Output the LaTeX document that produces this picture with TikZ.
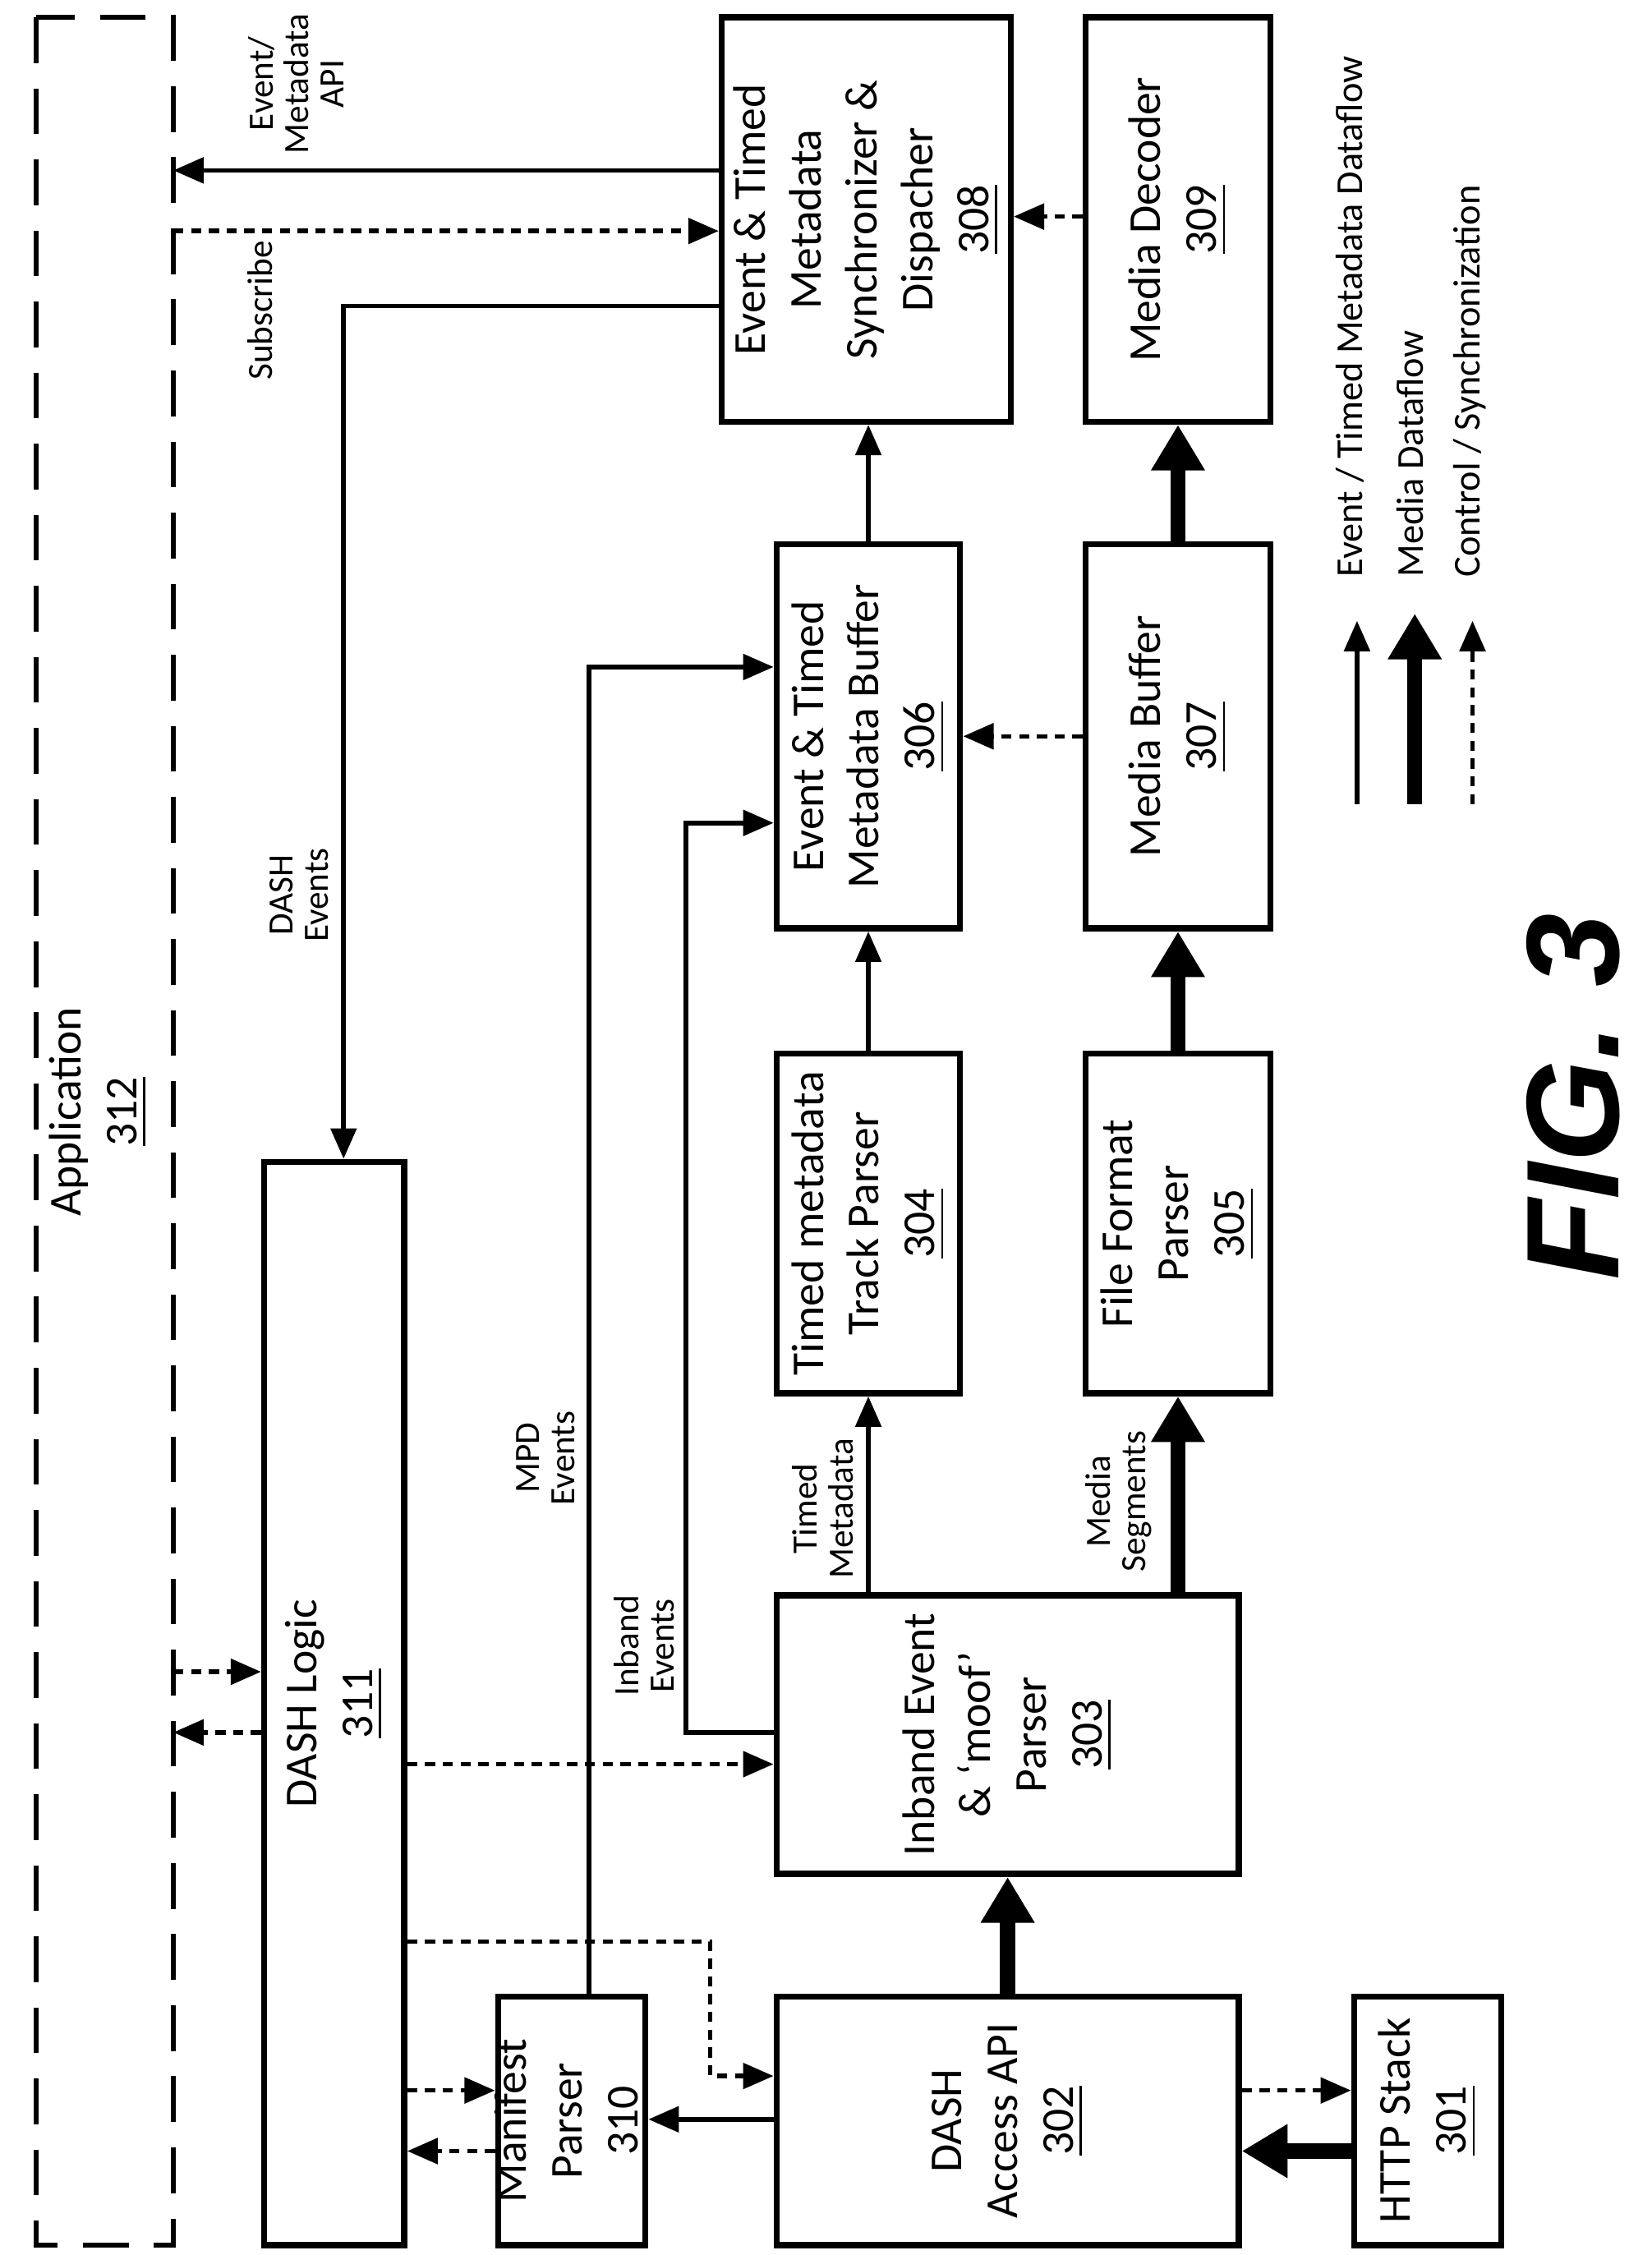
\documentclass[tikz,border=0pt]{standalone}
\usepackage{fontspec}
\setmainfont{Carlito}
\newfontfamily\figfont{Liberation Sans}
\usetikzlibrary{arrows.meta, calc, positioning}

\tikzset{
  box/.style={draw, line width=1.2pt, inner sep=0pt},
  txt/.style={rotate=90, align=center, font=\fontsize{9}{11}\selectfont},
  lbl/.style={rotate=90, align=center, font=\fontsize{7}{7}\selectfont},
  data/.style={line width=0.9pt, -{Triangle[length=6pt,width=5pt]}},
  media/.style={line width=3pt, -{Triangle[length=9pt,width=10pt]}},
  ctrl/.style={line width=0.9pt, dash pattern=on 2pt off 1.5pt, -{Triangle[length=6pt,width=5pt]}}
}

\begin{document}
\begin{tikzpicture}[x=0.01cm, y=-0.01cm]
\useasboundingbox (0,0) rectangle (1144,1562);

% application frame
\draw[line width=1pt, dash pattern=on 9pt off 5pt] (25,12) rectangle (120,1555);
\node[txt] (app) at (68,770) {Application\\\underline{312}};

% boxes
\node[box, minimum width=0.97cm, minimum height=7.5cm, label={[txt]center:DASH Logic\\\underline{311}}] (p311) at (231.5,1180) {};
\node[box, minimum width=1.02cm, minimum height=1.72cm, label={[txt]center:Manifest\\Parser\\\underline{310}}] (p310) at (396,1469) {};
\node[box, minimum width=3.2cm, minimum height=1.72cm, label={[txt]center:DASH\\Access API\\\underline{302}}] (p302) at (698,1469) {};
\node[box, minimum width=1.02cm, minimum height=1.72cm, label={[txt]center:HTTP Stack\\\underline{301}}] (p301) at (989,1469) {};
\node[box, minimum width=3.2cm, minimum height=1.93cm, label={[txt]center:Inband Event\\\& `moof'\\Parser\\\underline{303}}] (p303) at (698,1201.5) {};
\node[box, minimum width=1.27cm, minimum height=2.35cm, label={[txt]center:Timed metadata\\Track Parser\\\underline{304}}] (p304) at (601.5,847.5) {};
\node[box, minimum width=1.28cm, minimum height=2.35cm, label={[txt]center:File Format\\Parser\\\underline{305}}] (p305) at (816,847.5) {};
\node[box, minimum width=1.27cm, minimum height=2.66cm, label={[txt]center:Event \& Timed\\Metadata Buffer\\\underline{306}}] (p306) at (601.5,510) {};
\node[box, minimum width=1.28cm, minimum height=2.66cm, label={[txt]center:Media Buffer\\\underline{307}}] (p307) at (816,510) {};
\node[box, minimum width=2cm, minimum height=2.8cm, label={[txt]center:Event \& Timed\\Metadata\\Synchronizer \&\\Dispacher\\\underline{308}}] (p308) at (600,152) {};
\node[box, minimum width=1.28cm, minimum height=2.8cm, label={[txt]center:Media Decoder\\\underline{309}}] (p309) at (816,152) {};

% top connectors
\draw[data] (p308.west |- 0,118) -- (120,118);
\node[lbl] at (205,58) {Event/\\Metadata\\API};
\draw[ctrl] (120,160) -- (p308.west |- 0,160);
\node[lbl] at (180,215) {Subscribe};
\draw[data] (p308.west |- 0,212) -- (238,212) -- (238,0 |- p311.north);
\node[lbl] at (207,620) {DASH\\Events};
\draw[ctrl] (p309.west |- 0,150) -- (p308.east |- 0,150);

% buffers and parsers
\draw[data] (p306.north) -- (p306.north |- p308.south);
\draw[ctrl] (p307.west) -- (p306.east);
\draw[media] (p307.north) -- (p307.north |- p309.south);
\draw[data] (p304.north) -- (p304.north |- p306.south);
\draw[media] (p305.north) -- (p305.north |- p307.south);
\draw[data] (p304.south |- p303.north) -- (p304.south);
\node[lbl] at (570,1045) {Timed\\Metadata};
\draw[media] (p305.south |- p303.north) -- (p305.south);
\node[lbl] at (775,1040) {Media\\Segments};
\draw[data] (p303.west |- 0,1200) -- (475,1200) -- (475,570) -- (p306.west |- 0,570);
\node[lbl] at (446,1140) {Inband\\Events};
\draw[data] (408,0 |- p310.north) -- (408,462) -- (p306.west |- 0,462);
\node[lbl] at (378,1010) {MPD\\Events};

% control from DASH logic
\draw[ctrl] (p311.east |- 0,1222) -- (p303.west |- 0,1222);
\draw[ctrl] (p311.east |- 0,1345) -- (492,1345) -- (492,1438) -- (p302.west |- 0,1438);
\draw[media] (p302.north) -- (p303.south);
\draw[data] (p302.west |- 0,1468) -- (p310.east |- 0,1468);
\draw[ctrl] (p302.east |- 0,1448) -- (p301.west |- 0,1448);
\draw[media] (p301.west |- 0,1490) -- (p302.east |- 0,1490);
\draw[ctrl] (p311.east |- 0,1448) -- (p310.west |- 0,1448);
\draw[ctrl] (p310.west |- 0,1490) -- (p311.east |- 0,1490);
\draw[ctrl] (120,1158) -- (p311.west |- 0,1158);
\draw[ctrl] (p311.west |- 0,1200) -- (120,1200);

% legend
\draw[data] (940,557) -- (940,430);
\draw[media] (980,557) -- (980,425);
\draw[ctrl] (1020,557) -- (1020,430);
\node[lbl, anchor=west, font=\fontsize{7.5}{7.5}\selectfont] at (935,412) {Event / Timed Metadata Dataflow};
\node[lbl, anchor=west, font=\fontsize{7.5}{7.5}\selectfont] at (977,412) {Media Dataflow};
\node[lbl, anchor=west, font=\fontsize{7.5}{7.5}\selectfont] at (1018,412) {Control / Synchronization};

\node[rotate=90, font=\fontsize{26}{26}\figfont\bfseries\itshape] (fig) at (1090,760) {FIG. 3};
\end{tikzpicture}
\end{document}
